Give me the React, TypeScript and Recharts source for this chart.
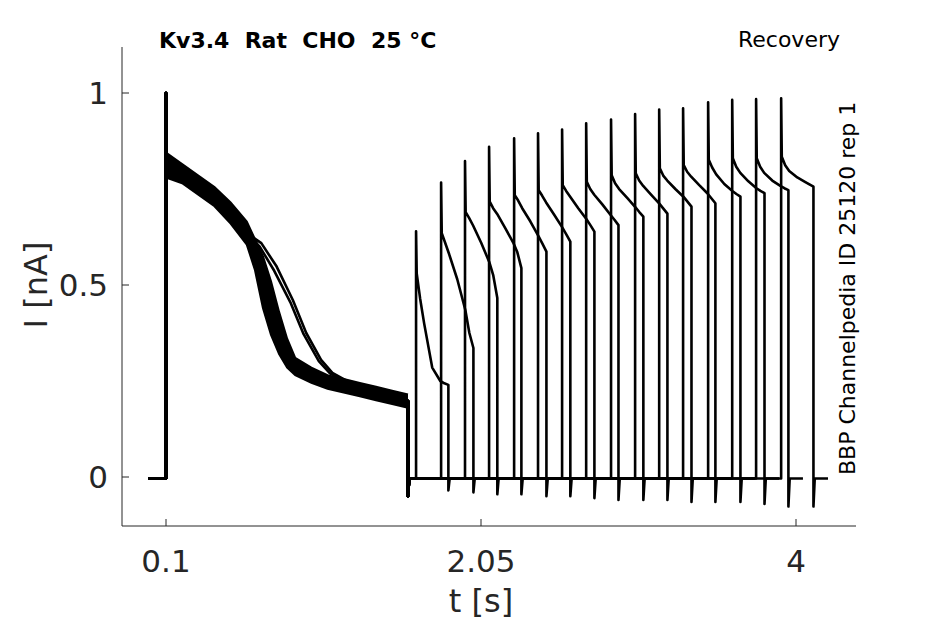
import React from 'react';
import { ComposedChart, Line, Area, XAxis, YAxis } from 'recharts';

const FONT = '"DejaVu Sans", sans-serif';
const INK = '#262626';

// inactivating prepulse, shared time base [s]
const prepulseT = [0.1, 0.2, 0.3, 0.4, 0.5, 0.6, 0.65, 0.7, 0.75, 0.8, 0.85, 0.9, 1.0, 1.1, 1.2, 1.3, 1.4, 1.5, 1.598];
// noisy band spanned by the overlapping traces [nA]
const bandLow = [0.78, 0.765, 0.735, 0.705, 0.66, 0.605, 0.54, 0.44, 0.37, 0.32, 0.285, 0.265, 0.245, 0.23, 0.22, 0.21, 0.2, 0.19, 0.18];
const bandHigh = [0.845, 0.815, 0.785, 0.755, 0.715, 0.665, 0.62, 0.575, 0.51, 0.43, 0.36, 0.31, 0.285, 0.265, 0.255, 0.245, 0.235, 0.225, 0.215];
const prepulseMid = [0.81, 0.79, 0.76, 0.73, 0.69, 0.635, 0.58, 0.51, 0.44, 0.375, 0.32, 0.29, 0.265, 0.248, 0.237, 0.227, 0.217, 0.207, 0.198];

// two slower traces that leave the band
const slowAT = [0.69, 0.785, 0.885, 0.968, 1.06, 1.13, 1.2];
const slowAI = [0.609, 0.548, 0.461, 0.375, 0.305, 0.271, 0.255];
const slowBT = [0.68, 0.77, 0.87, 0.952, 1.046, 1.115, 1.2];
const slowBI = [0.6, 0.537, 0.455, 0.372, 0.302, 0.27, 0.252];

const firstPeak = 1.0;
const prepulseStop = 1.598;
const prepulseDip = -0.05;

// recovery test pulses
const recoveryStart = [1.648, 1.803, 1.951, 2.1, 2.255, 2.403, 2.552, 2.701, 2.855, 3.004, 3.153, 3.301, 3.456, 3.605, 3.753, 3.908];
const pulsePeak = [0.64, 0.767, 0.823, 0.86, 0.882, 0.895, 0.905, 0.921, 0.931, 0.945, 0.957, 0.96, 0.976, 0.982, 0.984, 0.986];
const pulseKnee = [0.53, 0.635, 0.69, 0.717, 0.734, 0.747, 0.76, 0.769, 0.786, 0.791, 0.804, 0.8125, 0.826, 0.83, 0.83, 0.834];
const pulseAt025 = [0.465, 0.61, 0.675, 0.7, 0.72, 0.733, 0.745, 0.75, 0.765, 0.772, 0.785, 0.795, 0.806, 0.808, 0.808, 0.812];
const pulseAt050 = [0.4, 0.58, 0.655, 0.685, 0.7, 0.715, 0.73, 0.735, 0.75, 0.758, 0.772, 0.782, 0.788, 0.792, 0.792, 0.797];
const pulseAt100 = [0.285, 0.515, 0.61, 0.648, 0.666, 0.683, 0.7, 0.71, 0.727, 0.735, 0.75, 0.76, 0.763, 0.77, 0.772, 0.78];
const pulseAt150 = [0.25, 0.435, 0.56, 0.61, 0.628, 0.65, 0.672, 0.683, 0.703, 0.712, 0.73, 0.739, 0.745, 0.752, 0.758, 0.768];
const pulseAt175 = [0.244, 0.375, 0.525, 0.585, 0.608, 0.632, 0.656, 0.67, 0.69, 0.699, 0.717, 0.726, 0.737, 0.745, 0.752, 0.762];
const pulseEnd = [0.24, 0.336, 0.466, 0.544, 0.587, 0.613, 0.639, 0.656, 0.678, 0.686, 0.704, 0.713, 0.73, 0.739, 0.747, 0.756];
const tailDip = [-0.035, -0.04, -0.045, -0.045, -0.05, -0.05, -0.055, -0.06, -0.06, -0.06, -0.065, -0.065, -0.065, -0.07, -0.077, -0.077];
const pulseSampleT = [0, 0.004, 0.025, 0.05, 0.1, 0.15, 0.175, 0.2];
const recordEnd = 0.29;
const baseline = -0.004;

const xTicks = [0.1, 2.05, 4];
const yTicks = [0, 0.5, 1];

const bandData = prepulseT.map((t, k) => ({ t, band: [bandLow[k], bandHigh[k]] }));

function buildTrace(j: number) {
  const pts: { t: number; i: number }[] = [];
  const add = (t: number, i: number) => pts.push({ t, i });
  add(-0.011, baseline);
  add(0.1, baseline);
  add(0.1, firstPeak);
  add(0.102, 0.86);
  const slowT = j === 0 ? slowAT : j === 1 ? slowBT : null;
  const slowI = j === 0 ? slowAI : slowBI;
  prepulseT.forEach((t, k) => {
    if (slowT && t > 0.6 && t < 1.3) return;
    add(t, prepulseMid[k]);
    if (slowT && t === 0.6) slowT.forEach((st, m) => add(st, slowI[m]));
  });
  add(prepulseStop, prepulseDip);
  add(prepulseStop + 0.008, baseline);
  const t0 = recoveryStart[j];
  add(t0, baseline);
  const shape = [
    pulsePeak[j], pulseKnee[j], pulseAt025[j], pulseAt050[j],
    pulseAt100[j], pulseAt150[j], pulseAt175[j], pulseEnd[j],
  ];
  pulseSampleT.forEach((dt, k) => add(t0 + dt, shape[k]));
  const tEnd = t0 + pulseSampleT[pulseSampleT.length - 1];
  add(tEnd, tailDip[j]);
  add(tEnd + 0.008, baseline);
  add(t0 + recordEnd, baseline);
  return pts;
}

const traces = recoveryStart.map((_, j) => buildTrace(j));

const XTick = ({ x, y, payload }: any) => (
  <g>
    <line x1={x} x2={x} y1={y} y2={y - 7} stroke={INK} strokeWidth={1} />
    <text x={x} y={y + 46} textAnchor="middle" fontSize={31} fill={INK} fontFamily={FONT}>
      {payload.value}
    </text>
  </g>
);

const YTick = ({ x, y, payload }: any) => (
  <g>
    <line x1={x} x2={x + 7} y1={y} y2={y} stroke={INK} strokeWidth={1} />
    <text x={x - 14} y={y + 11} textAnchor="end" fontSize={31} fill={INK} fontFamily={FONT}>
      {payload.value}
    </text>
  </g>
);

export default function App() {
  return (
    <div style={{ position: 'relative', width: 930, height: 612, fontFamily: FONT }}>
      <ComposedChart
        width={900}
        height={600}
        data={bandData}
        margin={{ top: 39, right: 52, bottom: 22, left: 40 }}
      >
        <XAxis
          dataKey="t"
          type="number"
          domain={[-0.1724, 4.3714]}
          allowDataOverflow
          ticks={xTicks}
          tickLine={false}
          tickSize={0}
          tickMargin={0}
          height={60}
          axisLine={{ stroke: INK, strokeWidth: 1 }}
          tick={<XTick />}
          interval={0}
        />
        <YAxis
          type="number"
          domain={[-0.1276, 1.1198]}
          allowDataOverflow
          ticks={yTicks}
          tickLine={false}
          tickSize={0}
          tickMargin={0}
          width={74}
          axisLine={{ stroke: INK, strokeWidth: 1 }}
          tick={<YTick />}
          interval={0}
        />
        <Area
          dataKey="band"
          type="linear"
          fill="#000"
          fillOpacity={1}
          stroke="#000"
          strokeWidth={2}
          isAnimationActive={false}
          dot={false}
          activeDot={false}
        />
        {traces.map((d, j) => (
          <Line
            key={j}
            data={d}
            dataKey="i"
            type="linear"
            stroke="#000"
            strokeWidth={2.6}
            strokeLinejoin="round"
            dot={false}
            activeDot={false}
            isAnimationActive={false}
          />
        ))}
      </ComposedChart>
      <svg
        width={930}
        height={612}
        style={{ position: 'absolute', left: 0, top: 0, pointerEvents: 'none' }}
      >
        <text x={151} y={40} fontSize={22} fontWeight="bold" fill="#000" fontFamily={FONT} style={{ whiteSpace: 'pre' }}>
          {'Kv3.4  Rat  CHO  25 °C'}
        </text>
        <text x={832} y={39} fontSize={22} textAnchor="end" fill="#000" fontFamily={FONT}>
          Recovery
        </text>
        <text
          transform="translate(847,467) rotate(-90)"
          fontSize={22}
          fill="#000"
          fontFamily={FONT}
        >
          BBP Channelpedia ID 25120 rep 1
        </text>
        <text
          transform="translate(39,277) rotate(-90)"
          fontSize={32}
          textAnchor="middle"
          fill={INK}
          fontFamily={FONT}
        >
          I [nA]
        </text>
        <text x={473} y={604} fontSize={32} textAnchor="middle" fill={INK} fontFamily={FONT}>
          t [s]
        </text>
      </svg>
    </div>
  );
}
